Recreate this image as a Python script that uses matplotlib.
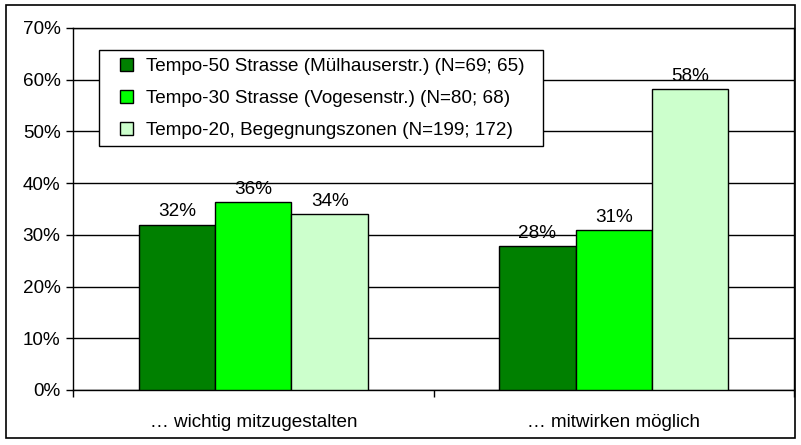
import matplotlib.pyplot as plt
import numpy as np
from matplotlib.patches import Rectangle
from matplotlib.ticker import FuncFormatter

plt.rcParams['font.family'] = ['Liberation Sans', 'DejaVu Sans']

categories = ['… wichtig mitzugestalten', '… mitwirken möglich']
series_names = [
    'Tempo-50 Strasse (Mülhauserstr.) (N=69; 65)',
    'Tempo-30 Strasse (Vogesenstr.) (N=80; 68)',
    'Tempo-20, Begegnungszonen (N=199; 172)',
]
tempo50 = [32.0, 27.8]
tempo30 = [36.4, 30.9]
tempo20 = [34.1, 58.2]
labels50 = ['32%', '28%']
labels30 = ['36%', '31%']
labels20 = ['34%', '58%']
colors = ['#008000', '#00ff00', '#ccffcc']

W, H = 801, 445
FS = 13.6
fig = plt.figure(figsize=(W / 100, H / 100), dpi=100)
ax = fig.add_axes([73 / W, 1 - 390 / H, (794 - 73) / W, (390 - 28) / H])

# outer chart frame
fig.patches.append(Rectangle((6 / W, 1 - 438 / H), (795 - 6) / W, (438 - 5) / H,
                             transform=fig.transFigure, fill=False,
                             edgecolor='black', linewidth=1.2))

x = np.arange(len(categories))
width = 0.212
all_vals = [tempo50, tempo30, tempo20]
all_labels = [labels50, labels30, labels20]
for i, (vals, lbls) in enumerate(zip(all_vals, all_labels)):
    pos = x + (i - 1) * width
    ax.bar(pos, vals, width, color=colors[i], edgecolor='black', linewidth=1,
           label=series_names[i], zorder=3)
    for p, v, t in zip(pos, vals, lbls):
        ax.text(p, v + 0.8, t, ha='center', va='bottom', fontsize=FS)

ax.set_xlim(-0.5, 1.5)
ax.set_ylim(0, 70)
ax.set_yticks(range(0, 71, 10))
ax.yaxis.set_major_formatter(FuncFormatter(lambda v, _: f'{v:.0f}%'))
ax.grid(axis='y', color='black', linewidth=1, zorder=0)
ax.set_axisbelow(True)

ax.set_xticks(x)
ax.set_xticklabels(categories, fontsize=FS)
ax.set_xticks([-0.5, 0.5, 1.5], minor=True)
ax.tick_params(axis='x', which='major', length=0, pad=17)
ax.tick_params(axis='x', which='minor', length=5, width=1, direction='out')
ax.tick_params(axis='y', length=5, width=1, direction='out', labelsize=FS, pad=4)

for s in ax.spines.values():
    s.set_linewidth(1)
    s.set_color('black')

# legend frame drawn separately for exact padding
def ax_xy(px, py):
    return (px - 73) / (794 - 73), 1 - (py - 28) / (390 - 28)

x0, y0 = ax_xy(99, 146)
x1, y1 = ax_xy(543, 50)
ax.add_patch(Rectangle((x0, y0), x1 - x0, y1 - y0, transform=ax.transAxes,
                       facecolor='white', edgecolor='black', linewidth=1, zorder=4))
lx, ly = ax_xy(120, 58)
leg = ax.legend(loc='upper left', bbox_to_anchor=(lx, ly), fontsize=FS,
                frameon=False, handlelength=0.7, handleheight=0.7,
                handletextpad=0.65, labelspacing=0.78, borderpad=0,
                borderaxespad=0)
leg.set_zorder(5)

fig.savefig('out.png', dpi=100, facecolor='white')
